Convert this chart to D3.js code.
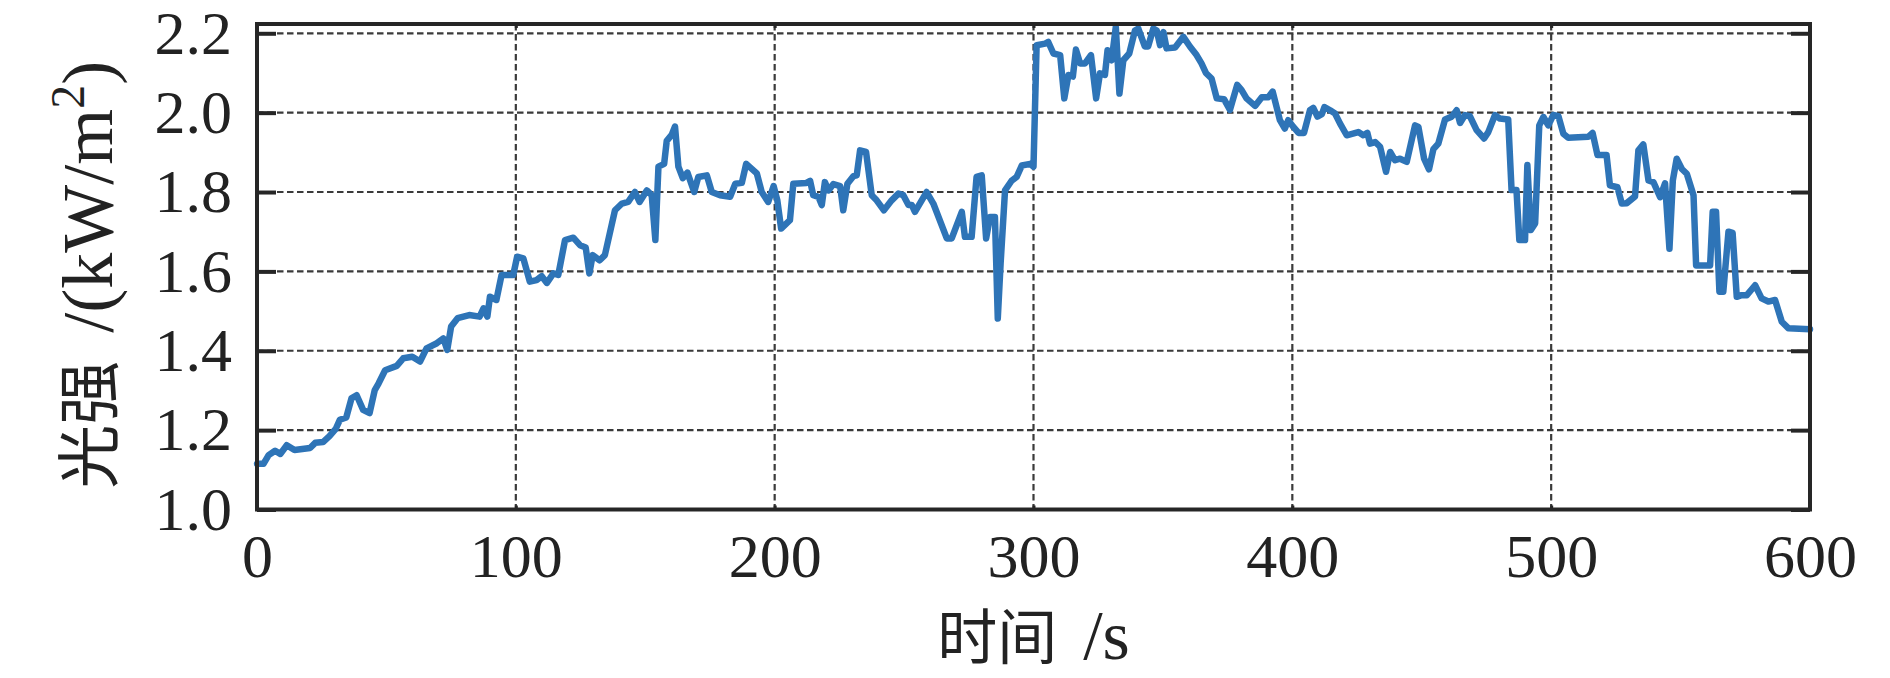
<!DOCTYPE html>
<html><head><meta charset="utf-8">
<script src="https://cdn.jsdelivr.net/npm/d3@7"></script>
<style>body{margin:0;background:#fff;} svg{display:block;}</style>
</head><body><svg id="c" width="1890" height="678"></svg>
<script>
// [time (s), irradiance (kW/m2)]
const seg0to100 = [[0,1.115],[2.5,1.115],[4.5,1.137],[7,1.148],[9,1.140],[11.5,1.162],[14.5,1.150],[20.5,1.155],[22.5,1.168],[25.5,1.170],[28,1.185],[30.5,1.204],[32,1.226],[34.5,1.232],[36.5,1.280],[38.5,1.288],[41,1.251],[43.5,1.243],[45.5,1.301],[47,1.318],[49.5,1.351],[54,1.362],[56.5,1.381],[60,1.385],[63,1.373],[65.5,1.406],[69.5,1.419],[72,1.431],[73.5,1.402],[75,1.461],[77.5,1.482],[82,1.490],[86,1.486],[87.5,1.507],[89,1.486],[90,1.536],[92.5,1.528],[94.5,1.591],[99,1.591],[100.5,1.637]];
const seg100to210 = [[102.9,1.633],[105.4,1.574],[108,1.578],[110,1.588],[112,1.571],[114.5,1.595],[116.4,1.591],[119,1.679],[122.2,1.685],[124.8,1.666],[127,1.660],[128.4,1.595],[129.7,1.641],[132.4,1.628],[134.4,1.641],[138.3,1.754],[141,1.771],[143.4,1.775],[146,1.800],[147.8,1.775],[150.6,1.804],[152.5,1.792],[153.9,1.679],[155.1,1.864],[157.3,1.871],[158.3,1.929],[160.2,1.944],[161.5,1.965],[162.8,1.864],[164.5,1.835],[166.3,1.849],[168.9,1.800],[170.5,1.838],[173.8,1.842],[175.7,1.800],[178.9,1.792],[182.8,1.788],[184.8,1.821],[187.3,1.823],[189,1.871],[193.1,1.847],[195,1.800],[197.5,1.775],[199.6,1.815],[201,1.780],[202.5,1.708],[205.9,1.729],[207.2,1.821]];
const seg210to302 = [[212.3,1.823],[213.7,1.828],[214.9,1.792],[216.9,1.788],[218.2,1.767],[219.4,1.825],[220.8,1.804],[222.7,1.820],[225.3,1.815],[226.5,1.754],[228.1,1.821],[230.4,1.840],[231.7,1.842],[233,1.905],[235.3,1.901],[237.5,1.792],[239.4,1.779],[242.2,1.754],[245.2,1.779],[247.8,1.796],[249.7,1.792],[251.7,1.767],[253,1.767],[254.2,1.750],[258.7,1.800],[261.3,1.771],[266.5,1.683],[268.4,1.683],[272.3,1.750],[273.5,1.687],[276.1,1.687],[278,1.838],[280,1.842],[281.7,1.683],[283.2,1.737],[285.1,1.737],[286.2,1.481],[287.3,1.621],[289,1.804],[291.6,1.829],[293.5,1.838],[295.5,1.867],[298.7,1.871],[300,1.864],[301.2,2.170]];
const seg302to400 = [[304.5,2.174],[305.7,2.178],[307.7,2.149],[310.3,2.145],[311.9,2.036],[313.5,2.095],[315.2,2.091],[316.4,2.159],[318,2.124],[319.9,2.124],[322.2,2.145],[324.2,2.036],[325.7,2.099],[327.6,2.095],[328.6,2.157],[330.2,2.132],[331.8,2.216],[333.2,2.048],[334.7,2.132],[337,2.149],[339.2,2.207],[340.5,2.212],[343,2.167],[344.3,2.167],[346.3,2.212],[347.6,2.207],[348.9,2.170],[350.2,2.203],[351.4,2.162],[354.7,2.164],[357.9,2.191],[360.5,2.166],[363,2.145],[364.9,2.124],[366.6,2.100],[368.8,2.086],[370.8,2.036],[373.6,2.034],[375.9,2.007],[378.7,2.070],[380.4,2.057],[382.3,2.036],[385.6,2.017],[388.2,2.039],[390.7,2.039],[392.4,2.053],[395.2,1.981],[397.1,1.960],[398.4,1.981]];
const seg400to503 = [[400.4,1.964],[402.4,1.949],[404.5,1.949],[406.8,2.006],[408.1,2.012],[409.7,1.990],[411.4,1.996],[412.4,2.014],[414.6,2.006],[416.5,1.998],[418.4,1.973],[421,1.943],[425.5,1.951],[427.4,1.943],[429,1.949],[430,1.922],[432,1.926],[433.9,1.914],[436.2,1.851],[437.8,1.901],[439.7,1.880],[441.6,1.884],[444.2,1.876],[447.4,1.968],[448.7,1.964],[450.9,1.884],[452.8,1.857],[454.5,1.908],[456.4,1.922],[459,1.983],[461.6,1.990],[463.5,2.006],[464.8,1.974],[466.7,1.994],[468.6,1.991],[471.2,1.956],[474.1,1.935],[475.7,1.951],[478.3,1.994],[480.2,1.985],[483.4,1.983],[484.7,1.805],[486.6,1.805],[487.7,1.679],[489.9,1.679],[490.8,1.868],[492.1,1.704],[493.8,1.721],[495.4,1.968],[497,1.989],[498.9,1.968],[500.8,1.994],[502.8,1.991]];
const seg503to600 = [[504.7,1.947],[506.6,1.937],[514.3,1.939],[516,1.949],[517.9,1.893],[521.4,1.893],[522.7,1.817],[525.6,1.812],[527.3,1.771],[529.2,1.772],[532.4,1.789],[533.7,1.905],[535.6,1.920],[537.6,1.829],[539.5,1.825],[542.1,1.787],[544,1.822],[545.7,1.657],[547,1.829],[548.5,1.884],[550.5,1.858],[552.4,1.846],[555,1.792],[556,1.615],[561.4,1.615],[562.4,1.750],[563.7,1.750],[565,1.549],[566.5,1.549],[568.5,1.700],[570.1,1.697],[571.7,1.536],[573.6,1.540],[575.6,1.540],[578.8,1.565],[581.3,1.532],[583.9,1.524],[586.5,1.528],[589.1,1.473],[591.6,1.457],[600,1.454]];

const xTicks = [0,100,200,300,400,500,600];
const xTickLabels = ["0","100","200","300","400","500","600"];
const yTicks = [1.0,1.2,1.4,1.6,1.8,2.0,2.2];
const yTickLabels = ["1.0","1.2","1.4","1.6","1.8","2.0","2.2"];
const xDomain = [0,600];
const yDomain = [1.0,2.2234];

const data = [].concat(seg0to100, seg100to210, seg210to302, seg302to400, seg400to503, seg503to600);

const L = 257, R = 1810, T = 24, B = 509.5;
const svg = d3.select("#c");
const x = d3.scaleLinear().domain(xDomain).range([L, R]);
const y = d3.scaleLinear().domain(yDomain).range([B, T]);

const serif = "'Liberation Serif', 'DejaVu Serif', serif";
const cjk = "'Noto Sans CJK SC', sans-serif";
const gridColor = "#3a3a3a";
const axisColor = "#262626";

// grid
const g = svg.append("g");
g.selectAll("line.gy").data(yTicks.filter(d => d > yDomain[0] && d < yDomain[1])).join("line")
  .attr("x1", L).attr("x2", R).attr("y1", d => y(d)).attr("y2", d => y(d))
  .attr("stroke", gridColor).attr("stroke-width", 2.2).attr("stroke-dasharray", "6.5,3.5");
g.selectAll("line.gx").data(xTicks.filter(d => d > xDomain[0] && d < xDomain[1])).join("line")
  .attr("x1", d => x(d)).attr("x2", d => x(d)).attr("y1", T).attr("y2", B)
  .attr("stroke", gridColor).attr("stroke-width", 2.2).attr("stroke-dasharray", "6.5,3.5");

// line
svg.append("path").datum(data)
  .attr("fill", "none").attr("stroke", "#2e74b7").attr("stroke-width", 6.5)
  .attr("stroke-linejoin", "round").attr("stroke-linecap", "round")
  .attr("d", d3.line().x(d => x(d[0])).y(d => y(d[1])));

// axes via d3 axis (labels), ticks inward
const yAxisL = svg.append("g").attr("transform", `translate(${L},0)`)
  .call(d3.axisLeft(y).tickValues(yTicks).tickFormat((d,i) => yTickLabels[i]).tickSizeInner(-19).tickSizeOuter(0).tickPadding(25));
const yAxisR = svg.append("g").attr("transform", `translate(${R},0)`)
  .call(d3.axisRight(y).tickValues(yTicks).tickFormat("").tickSizeInner(-19).tickSizeOuter(0));
const xAxisB = svg.append("g").attr("transform", `translate(0,${B})`)
  .call(d3.axisBottom(x).tickValues(xTicks).tickFormat((d,i) => xTickLabels[i]).tickSizeInner(-4).tickSizeOuter(0).tickPadding(23));
const xAxisT = svg.append("g").attr("transform", `translate(0,${T})`)
  .call(d3.axisTop(x).tickValues(xTicks).tickFormat("").tickSizeInner(-4).tickSizeOuter(0));

[yAxisL, yAxisR, xAxisB, xAxisT].forEach(a => {
  a.select(".domain").remove();
  a.selectAll(".tick line").attr("stroke", axisColor).attr("stroke-width", 4);
  a.selectAll(".tick text").attr("fill", "#222").style("font-family", serif).style("font-size", "62px");
});
xAxisB.selectAll(".tick line").attr("stroke-width", 3);
xAxisT.selectAll(".tick line").attr("stroke-width", 3);
xAxisB.selectAll(".tick text").attr("dy", "0.71em");

// frame
svg.append("rect").attr("x", L).attr("y", T).attr("width", R - L).attr("height", B - T)
  .attr("fill", "none").attr("stroke", axisColor).attr("stroke-width", 4);

// x title
const xt = svg.append("text").attr("x", (L + R) / 2).attr("y", 659).attr("text-anchor", "middle").attr("fill", "#222");
xt.append("tspan").style("font-family", cjk).style("font-size", "60px").text("时间");
xt.append("tspan").style("font-family", serif).style("font-size", "70px").attr("dx", 26).text("/s");

// y title
const yt = svg.append("text").attr("transform", `translate(112,${(T + B) / 2 + 8}) rotate(-90)`)
  .attr("text-anchor", "middle").attr("fill", "#222");
yt.append("tspan").style("font-family", cjk).style("font-size", "64px").text("光强");
yt.append("tspan").style("font-family", serif).style("font-size", "72px").attr("dx", 28).text("/(kW/m");
yt.append("tspan").style("font-family", serif).style("font-size", "48px").attr("dy", -28).text("2");
yt.append("tspan").style("font-family", serif).style("font-size", "72px").attr("dy", 28).text(")");
</script></body></html>
